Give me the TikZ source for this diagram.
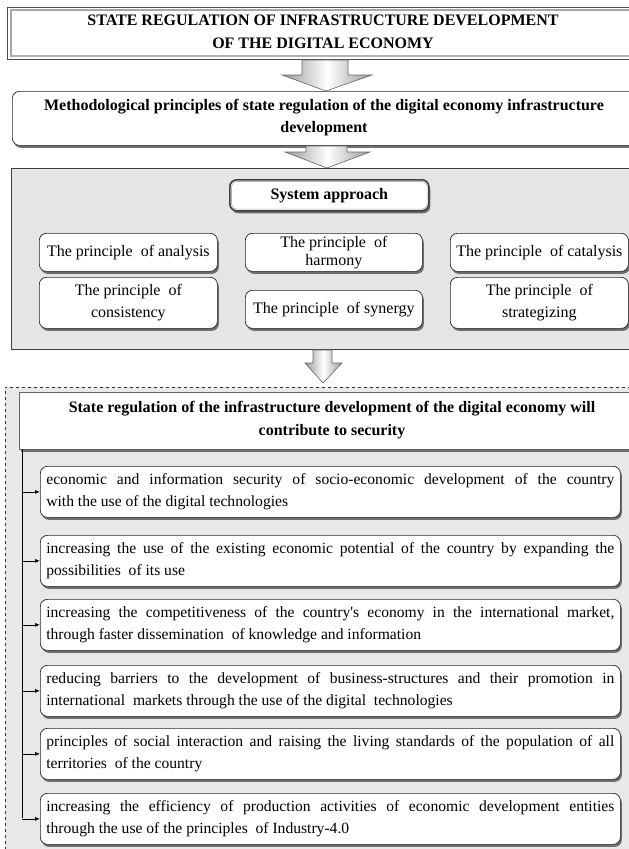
\documentclass[tikz,border=0pt]{standalone}
\usepackage{fontspec}
\setmainfont{Liberation Serif}
\usetikzlibrary{shadows,calc,arrows.meta}
\tikzset{
  shad/.style={drop shadow={shadow xshift=1.5pt, shadow yshift=-2.5pt, fill=black!65, opacity=0.85}},
  rbox/.style={draw=black!85, fill=white, rounded corners=7pt, line width=0.7pt, shad, inner sep=2pt},
  pbox/.style={rbox, anchor=north west, align=center, font=\fontsize{16}{22}\selectfont},
  itembox/.style={rbox, anchor=north west, minimum width=580pt, minimum height=51pt, text width=568pt, align=justify, font=\fontsize{15.6}{22.5}\selectfont, inner sep=5pt},
  bigarrow/.style={draw=black!60, line width=0.6pt, left color=black!40, right color=black!40, middle color=white},
  feed/.style={draw=black, line width=0.7pt, -{Latex[length=5pt,width=4pt]}},
  panel/.style={draw=black!75, fill=black!10, line width=0.7pt},
}
\begin{document}
\begin{tikzpicture}[x=1pt,y=-1pt]
\useasboundingbox (0,0) rectangle (629,849);
\clip (0,0) rectangle (629,849);
\fill[white] (0,0) rectangle (629,849);

% top box
\node[draw=black!70, fill=white, line width=0.9pt, anchor=north west, minimum width=640pt, minimum height=52pt, inner sep=0pt] (top) at (7,7) {};
\draw[black!35, line width=1.2pt] (11,57) -- (11,10) -- (640,10);
\draw[black!30, line width=1.5pt] (11,56) -- (640,56);
\node[font=\bfseries\fontsize{16}{23}\selectfont, align=center] (toptxt) at (323,32) {STATE REGULATION OF INFRASTRUCTURE DEVELOPMENT\\OF THE DIGITAL ECONOMY};

% arrow 1
\path[bigarrow] (302,60) -- (348,60) -- (348,75) -- (372,75) -- (326,91) -- (282,75) -- (302,75) -- cycle;

% methodological box
\node[rbox, anchor=north west, minimum width=640pt, minimum height=54pt] (meth) at (12,91) {};
\node[font=\bfseries\fontsize{16}{22}\selectfont, align=center] (methtxt) at (324,118) {Methodological principles of state regulation of the digital economy infrastructure\\development};

% arrow 2
\path[bigarrow] (306,146) -- (347,146) -- (347,152) -- (370,152) -- (327,168) -- (285,152) -- (306,152) -- cycle;

% gray panel
\node[panel, anchor=north west, minimum width=640pt, minimum height=181pt, inner sep=0pt] (panel) at (11,168) {};

% system approach
\node[rbox, draw=black!75, line width=1.6pt, anchor=north west, minimum width=199pt, minimum height=31pt, font=\bfseries\fontsize{16}{20}\selectfont] (sys) at (229,179) {System approach};
\draw[black!30, line width=0.6pt, rounded corners=5pt] ($(sys.north west)+(2.5,2.5)$) rectangle ($(sys.south east)+(-2.5,-2.5)$);

% principles
\node[pbox, minimum width=178pt, minimum height=38pt] (ana) at (39,233) {The principle \ of analysis};
\node[pbox, minimum width=177pt, minimum height=38pt, font=\fontsize{16}{18.5}\selectfont] (har) at (245,233) {The principle \ of\\harmony};
\node[pbox, minimum width=178pt, minimum height=38pt] (cat) at (450,233) {The principle \ of catalysis};
\node[pbox, minimum width=178pt, minimum height=51pt] (con) at (39,277) {The principle \ of\\consistency};
\node[pbox, minimum width=177pt, minimum height=38pt] (syn) at (245,290) {The principle \ of synergy};
\node[pbox, minimum width=178pt, minimum height=51pt] (str) at (450,277) {The principle \ of\\strategizing};

% arrow 3
\path[bigarrow] (313,350) -- (332,350) -- (332,363) -- (342,363) -- (323,383) -- (305,363) -- (313,363) -- cycle;

% dashed panel
\node[draw=black!80, dashed, fill=black!9, line width=0.6pt, anchor=north west, minimum width=640pt, minimum height=480pt, inner sep=0pt] (dpanel) at (5,387) {};

% header
\node[draw=black!60, fill=white, line width=0.7pt, shad, anchor=north west, minimum width=640pt, minimum height=57pt, inner sep=0pt] (head) at (19,392) {};
\node[font=\bfseries\fontsize{16}{23}\selectfont, align=center] (headtxt) at (332,420.5) {State regulation of the infrastructure development of the digital economy will\\contribute to security};

% items
\node[itembox] (i1) at (40,466) {economic and information security of socio-economic development of the country\linebreak with the use of the digital technologies};
\node[itembox] (i2) at (40,535) {increasing the use of the existing economic potential of the country by expanding the\linebreak possibilities \ of its use};
\node[itembox] (i3) at (40,599) {increasing the competitiveness of the country\textquotesingle s economy in the international market,\linebreak through faster dissemination \ of knowledge and information};
\node[itembox] (i4) at (40,665) {reducing barriers to the development of business-structures and their promotion in\linebreak international \ markets through the use of the digital \ technologies};
\node[itembox] (i5) at (40,728) {principles of social interaction and raising the living standards of the population of all\linebreak territories \ of the country};
\node[itembox] (i6) at (40,793) {increasing the efficiency of production activities of economic development entities\linebreak through the use of the principles \ of Industry-4.0};

% feed lines
\coordinate (vtop) at (22,449);
\coordinate (vbot) at (22,818);
\draw[black, line width=0.7pt] (vtop) -- (vbot);
\foreach \n in {i1,i2,i3,i4,i5,i6}{
  \draw[feed] (vtop |- \n.west) -- (\n.west);
}
\end{tikzpicture}
\end{document}
